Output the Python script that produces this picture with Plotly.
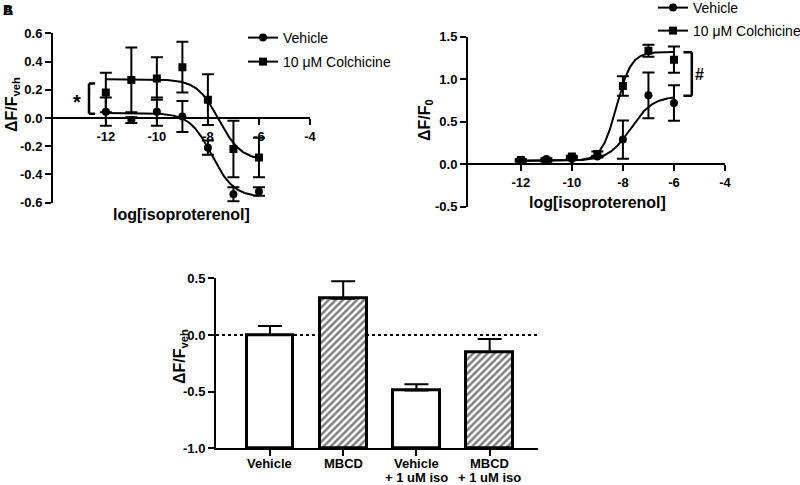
import numpy as np
import plotly.graph_objects as go

FONT = "Liberation Sans, Arial, sans-serif"

# ---------------- data ----------------
log_iso = [-12, -11, -10, -9, -8, -7, -6]

# Panel A  (ΔF/F_veh)
a_vehicle = [0.045, -0.015, 0.045, 0.01, -0.21, -0.54, -0.52]
a_vehicle_err = [0.10, 0.02, 0.10, 0.11, 0.05, 0.05, 0.03]
a_colch = [0.18, 0.27, 0.28, 0.36, 0.13, -0.22, -0.28]
a_colch_err = [0.14, 0.23, 0.15, 0.18, 0.18, 0.20, 0.14]
# fit parameters: value at low dose, value at high dose, logEC50, slope
a_vehicle_fit = [0.035, -0.56, -7.85, 1.0]
a_colch_fit = [0.275, -0.30, -7.57, 1.0]

# Panel B  (ΔF/F0)
b_vehicle = [0.04, 0.06, 0.06, 0.09, 0.29, 0.81, 0.72]
b_vehicle_err = [0.01, 0.01, 0.01, 0.01, 0.225, 0.27, 0.21]
b_colch = [0.05, 0.04, 0.09, 0.12, 0.92, 1.335, 1.23]
b_colch_err = [0.01, 0.01, 0.01, 0.03, 0.115, 0.07, 0.155]
b_vehicle_fit = [0.04, 0.80, -7.7, 1.0]
b_colch_fit = [0.04, 1.32, -8.25, 1.5]

# Panel C  (bars)
bar_labels = [["Vehicle"], ["MBCD"], ["Vehicle", "+ 1 uM iso"], ["MBCD", "+ 1 uM iso"]]
bar_values = [0.0, 0.32, -0.49, -0.15]
bar_err = [0.08, 0.155, 0.055, 0.115]
bar_hatch = ["", "/", "", "/"]

series_names = ["Vehicle", "10 \u03bcM Colchicine"]

x_ticks = [-12, -10, -8, -6, -4]
x_ticktext = ["-12", "-10", "-8", "-6", "-4"]
a_yticks = [-0.6, -0.4, -0.2, 0.0, 0.2, 0.4, 0.6]
b_yticks = [-0.5, 0.0, 0.5, 1.0, 1.5]
c_yticks = [-1.0, -0.5, 0.0, 0.5]


def fmt(v):
    return "%.1f" % v


def curve(params, x):
    start, end, logec50, slope = params
    return start + (end - start) / (1 + 10 ** ((logec50 - x) * slope))


xc = np.linspace(log_iso[0], log_iso[-1], 300)

fig = go.Figure()

W, H = 800, 485
dom_a_x = [53 / W, 310 / W]
dom_a_y = [1 - 202.7 / H, 1 - 33.3 / H]
dom_b_x = [468 / W, 725 / W]
dom_b_y = [1 - 206.7 / H, 1 - 36.7 / H]
dom_c_x = [216 / W, 538 / W]
dom_c_y = [1 - 448.3 / H, 1 - 278.3 / H]
range_a_y = [-0.6, 0.6]
range_b_y = [-0.5, 1.5]
range_xc = [-14.07, -4]


def zero_pos(dom, rng):
    return dom[0] + (0 - rng[0]) / (rng[1] - rng[0]) * (dom[1] - dom[0])


err_style = dict(type="data", thickness=2, width=6, color="black")

panels = [
    ("x", "y", a_vehicle, a_vehicle_err, a_colch, a_colch_err, a_vehicle_fit, a_colch_fit, ("legend", "legend2")),
    ("x2", "y2", b_vehicle, b_vehicle_err, b_colch, b_colch_err, b_vehicle_fit, b_colch_fit, ("legend3", "legend4")),
]
for xa, ya, veh, veh_e, col, col_e, vfit, cfit, legs in panels:
    for vals, errs, fit, sym, size, name, leg in [
        (veh, veh_e, vfit, "circle", 8, series_names[0], legs[0]),
        (col, col_e, cfit, "square", 8, series_names[1], legs[1]),
    ]:
        fig.add_trace(go.Scatter(x=xc, y=curve(fit, xc), mode="lines",
                                 line=dict(color="black", width=2),
                                 xaxis=xa, yaxis=ya, showlegend=False, hoverinfo="skip"))
        fig.add_trace(go.Scatter(x=log_iso, y=vals, mode="markers",
                                 marker=dict(symbol=sym, size=size, color="black"),
                                 error_y=dict(array=errs, **err_style),
                                 xaxis=xa, yaxis=ya, showlegend=False))
        fig.add_trace(go.Scatter(x=[None], y=[None], mode="lines+markers", name=name,
                                 marker=dict(symbol=sym, size=size, color="black"),
                                 line=dict(color="black", width=2),
                                 xaxis=xa, yaxis=ya, showlegend=True, legend=leg))

# bars
bar_base = c_yticks[0]
bar_x = list(range(len(bar_labels)))
fig.add_trace(go.Bar(
    x=bar_x,
    y=[v - bar_base for v in bar_values],
    base=bar_base,
    width=0.64,
    marker=dict(color="white", line=dict(color="black", width=3),
                pattern=dict(shape=bar_hatch, fgcolor="#000000", bgcolor="white",
                             size=5, solidity=0.5)),
    error_y=dict(type="data", array=bar_err, arrayminus=[0] * len(bar_err),
                 symmetric=False, thickness=2, width=12, color="black"),
    xaxis="x3", yaxis="y3", showlegend=False))

tickfont = dict(family=FONT, size=13, color="black", weight="bold")
axis_common = dict(showline=True, linecolor="black", linewidth=2, ticks="outside",
                   ticklen=6, tickwidth=2, tickcolor="black", showgrid=False,
                   zeroline=False, tickfont=tickfont, fixedrange=True)

fig.update_layout(
    width=W, height=H,
    margin=dict(l=0, r=0, t=0, b=0, autoexpand=False),
    paper_bgcolor="white", plot_bgcolor="rgba(0,0,0,0)",
    font=dict(family=FONT, color="black"),
    bargap=0,
    xaxis=dict(domain=dom_a_x, range=range_xc, anchor="free",
               position=zero_pos(dom_a_y, range_a_y),
               tickvals=x_ticks, ticktext=x_ticktext, **axis_common),
    yaxis=dict(domain=dom_a_y, range=range_a_y, anchor="x",
               tickvals=a_yticks, ticktext=[fmt(v) for v in a_yticks], **axis_common),
    xaxis2=dict(domain=dom_b_x, range=range_xc, anchor="free",
                position=zero_pos(dom_b_y, range_b_y),
                tickvals=x_ticks, ticktext=x_ticktext, **axis_common),
    yaxis2=dict(domain=dom_b_y, range=range_b_y, anchor="x2",
                tickvals=b_yticks, ticktext=[fmt(v) for v in b_yticks], **axis_common),
    xaxis3=dict(domain=dom_c_x, range=[-0.737, 3.66], anchor="y3",
                tickvals=bar_x, showticklabels=False, **axis_common),
    yaxis3=dict(domain=dom_c_y, range=[c_yticks[0], c_yticks[-1]], anchor="x3",
                tickvals=c_yticks, ticktext=[fmt(v) for v in c_yticks], **axis_common),
)

# category labels under the bars (two-line labels, tight line spacing)
for xi, lines in zip(bar_x, bar_labels):
    for j, line in enumerate(lines):
        fig.add_annotation(text=line, xref="x3", yref="paper", x=xi, y=1 - (463 + 14 * j) / H,
                           xanchor="center", yanchor="middle", showarrow=False, borderpad=0,
                           font=dict(family=FONT, size=13, color="black", weight="bold"))

leg_font = dict(family=FONT, size=14, color="black")
for key, tx, cy in [("legend", 283, 38), ("legend2", 283, 62),
                    ("legend3", 693, 8), ("legend4", 693, 31)]:
    fig.update_layout({key: dict(x=(tx - 40) / W, xanchor="left", y=1 - cy / H, yanchor="middle",
                                 font=leg_font, bgcolor="rgba(0,0,0,0)", borderwidth=0)})

title_font = dict(family=FONT, size=16, color="black", weight="bold")
ann = [
    dict(text="log[isoproterenol]", x=181 / W, y=1 - 214 / H),
    dict(text="log[isoproterenol]", x=597 / W, y=1 - 202 / H),
    dict(text="\u0394F/F<sub>veh</sub>", x=12 / W, y=1 - 105 / H, textangle=-90),
    dict(text="\u0394F/F<sub>0</sub>", x=425 / W, y=1 - 120 / H, textangle=-90),
    dict(text="\u0394F/F<sub>veh</sub>", x=180 / W, y=1 - 357 / H, textangle=-90),
]
for a in ann:
    fig.add_annotation(xref="paper", yref="paper", showarrow=False, font=title_font,
                       xanchor="center", yanchor="middle", **a)

# panel letters (overlapping A/B as in the source)
for letter in ["A", "B"]:
    fig.add_annotation(text=letter, xref="paper", yref="paper", x=0.5 / W, y=1 - 0.5 / H,
                       xanchor="left", yanchor="top", showarrow=False,
                       font=dict(family=FONT, size=14, color="black", weight="bold"))

# significance brackets
bk = dict(type="line", line=dict(color="black", width=2.5))
fig.add_shape(xref="x", yref="y", x0=-12.66, x1=-12.66, y0=0.03, y1=0.245, **bk)
fig.add_shape(xref="x", yref="y", x0=-12.66, x1=-12.42, y0=0.245, y1=0.245, **bk)
fig.add_shape(xref="x", yref="y", x0=-12.66, x1=-12.42, y0=0.03, y1=0.03, **bk)
fig.add_annotation(text="*", xref="x", yref="y", x=-13.13, y=0.11, showarrow=False,
                   font=dict(family=FONT, size=20, color="black", weight="bold"))
fig.add_shape(xref="x2", yref="y2", x0=-5.3, x1=-5.3, y0=0.806, y1=1.316, **bk)
fig.add_shape(xref="x2", yref="y2", x0=-5.63, x1=-5.3, y0=1.316, y1=1.316, **bk)
fig.add_shape(xref="x2", yref="y2", x0=-5.63, x1=-5.3, y0=0.806, y1=0.806, **bk)
fig.add_annotation(text="#", xref="x2", yref="y2", x=-5.0, y=1.06, showarrow=False,
                   font=dict(family=FONT, size=16, color="black", weight="bold"))

# dotted zero reference line in bar panel
fig.add_shape(type="line", xref="x3 domain", yref="y3", x0=0, x1=1, y0=0, y1=0,
              line=dict(color="black", width=2, dash="dot"), layer="below")

fig.write_html("out.html", config={"displayModeBar": False},
               post_script="document.body.style.margin='0';document.body.style.padding='0';")
